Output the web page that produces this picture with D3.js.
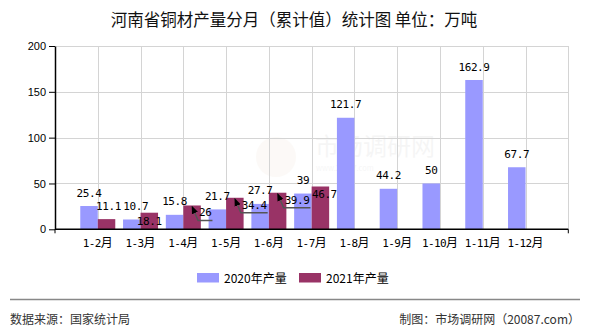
<!DOCTYPE html>
<html>
<head>
<meta charset="utf-8">
<script src="https://cdn.jsdelivr.net/npm/d3@7"></script>
<style>
  html, body { margin: 0; padding: 0; background: #fff; }
  svg { display: block; }
</style>
</head>
<body>
<div id="chart"></div>
<script>
// ---- data ----
const categories = ["1-2月","1-3月","1-4月","1-5月","1-6月","1-7月","1-8月","1-9月","1-10月","1-11月","1-12月"];
const values2020 = [25.4, 10.7, 15.8, 21.7, 27.7, 39, 121.7, 44.2, 50, 162.9, 67.7];
const values2021 = [11.1, 18.1, 26, 34.4, 39.9, 46.7, null, null, null, null, null];
const seriesNames = ["2020年产量", "2021年产量"];
const yTicks = [0, 50, 100, 150, 200];
const titleText = "河南省铜材产量分月（累计值）统计图 单位：万吨";
const sourceText = "数据来源：国家统计局";
const creditText = "制图：市场调研网（20087.com）";

// ---- layout ----
const W = 590, H = 330;
const plot = { left: 55, right: 568.3, top: 46, bottom: 229.3 };
const colors = ["#9999FF", "#993366"];
const barW = 17.5;
const monoFont = "'DejaVu Sans Mono', 'Liberation Mono', monospace";
const cjkFont = "'Noto Sans CJK SC', 'DejaVu Sans', sans-serif";

// label placement tweaks (collision handling as in the original)
const labelAdjust = {
  "0-1": { dx: 4 },
  "1-0": { dx: 2 },
  "1-1": { inside: true },
  "1-2": { leader: true },
  "1-3": { leader: true },
  "1-4": { leader: true },
  "1-5": { inside: true, dx: 4 }
};

const svg = d3.select("#chart").append("svg")
  .attr("width", W).attr("height", H)
  .style("font-family", cjkFont);

svg.append("rect").attr("width", W).attr("height", H).attr("fill", "#fff");

const defs = svg.append("defs");
defs.append("marker").attr("id", "arrow")
  .attr("viewBox", "0 0 10 10").attr("refX", 9).attr("refY", 5)
  .attr("markerWidth", 8).attr("markerHeight", 8).attr("orient", "auto")
  .attr("markerUnits", "userSpaceOnUse")
  .append("path").attr("d", "M0,1 L10,5 L0,9 Z").attr("fill", "#000");

const x = d3.scalePoint().domain(categories).range([plot.left, plot.right]).padding(1);
const y = d3.scaleLinear().domain([0, 200]).range([plot.bottom, plot.top]);

// title
svg.append("text").attr("x", W / 2 - 1).attr("y", 26)
  .attr("text-anchor", "middle").attr("font-size", 16.5).attr("fill", "#111")
  .text(titleText);

// watermark
const wm = svg.append("g").attr("opacity", 0.05);
wm.append("circle").attr("cx", 276).attr("cy", 157).attr("r", 20).attr("fill", "#c9a070");
wm.append("text").attr("x", 315).attr("y", 155).attr("font-size", 24).attr("fill", "#555").text("市场调研网");
wm.append("text").attr("x", 316).attr("y", 171).attr("font-size", 7.5).attr("fill", "#555")
  .text("www.20087.com");

// gridlines
const grid = svg.append("g").attr("stroke", "#d4d4d4").attr("stroke-width", 1);
grid.selectAll("line.h").data(yTicks.filter(t => t > 0)).join("line")
  .attr("x1", plot.left).attr("x2", plot.right)
  .attr("y1", d => Math.round(y(d)) + 0.5).attr("y2", d => Math.round(y(d)) + 0.5);
grid.selectAll("line.v").data(categories).join("line")
  .attr("x1", d => Math.round(x(d)) + 0.5).attr("x2", d => Math.round(x(d)) + 0.5)
  .attr("y1", plot.top).attr("y2", plot.bottom);
grid.append("line")
  .attr("x1", Math.round(plot.right) + 0.5).attr("x2", Math.round(plot.right) + 0.5)
  .attr("y1", plot.top).attr("y2", plot.bottom);

// bars
const seriesData = [values2020, values2021];
seriesData.forEach((vals, si) => {
  svg.append("g").selectAll("rect").data(vals.map((v, i) => ({ v, i })).filter(d => d.v != null))
    .join("rect")
    .attr("x", d => si === 0 ? x(categories[d.i]) - barW : x(categories[d.i]))
    .attr("y", d => y(d.v))
    .attr("width", barW)
    .attr("height", d => y(0) - y(d.v))
    .attr("fill", colors[si]);
});

// axes
const yAxis = d3.axisLeft(y).tickValues(yTicks).tickSize(6).tickSizeOuter(0).tickPadding(3);
const gy = svg.append("g").attr("transform", `translate(${plot.left},0)`).call(yAxis);
gy.select(".domain").attr("stroke", "#000").attr("stroke-width", 1.5);
gy.selectAll(".tick line").attr("stroke", "#000");
gy.selectAll(".tick text").attr("font-family", "'Liberation Sans', Arial, sans-serif")
  .attr("font-size", 11).attr("fill", "#000");

svg.append("line").attr("x1", plot.left).attr("x2", plot.right)
  .attr("y1", plot.bottom).attr("y2", plot.bottom).attr("stroke", "#000").attr("stroke-width", 1.5);
[plot.left, plot.right].forEach(px => {
  svg.append("line").attr("x1", px).attr("x2", px).attr("y1", plot.bottom).attr("y2", plot.bottom + 4)
    .attr("stroke", "#000");
});

// x labels
svg.append("g").selectAll("text").data(categories).join("text")
  .attr("x", d => x(d)).attr("y", 247)
  .attr("text-anchor", "middle").attr("font-size", 12).attr("fill", "#000")
  .each(function (d) {
    const t = d3.select(this);
    const num = d.replace("月", "");
    t.append("tspan").attr("font-family", monoFont).attr("font-size", 11).attr("letter-spacing", -0.6).text(num);
    t.append("tspan").text("月");
  });

// data labels
const labelsG = svg.append("g").attr("font-family", monoFont).attr("font-size", 11)
  .attr("letter-spacing", -0.4).attr("fill", "#000");
seriesData.forEach((vals, si) => {
  vals.forEach((v, i) => {
    if (v == null) return;
    const cx = si === 0 ? x(categories[i]) - barW / 2 : x(categories[i]) + barW / 2;
    const top = y(v);
    const adj = labelAdjust[`${si}-${i}`] || {};
    const txt = String(v);
    if (adj.leader) {
      const cornerX = cx + 6, cornerY = top + 15;
      const tw = txt.length * 6.2;
      labelsG.append("text").attr("x", cornerX + 1).attr("y", cornerY - 4).text(txt);
      svg.append("path")
        .attr("d", `M${cornerX + tw + 2},${cornerY} H${cornerX} L${cx},${top + 1}`)
        .attr("fill", "none").attr("stroke", "#555").attr("stroke-width", 1.5)
        .attr("marker-end", "url(#arrow)");
    } else if (adj.inside) {
      labelsG.append("text").attr("x", cx + (adj.dx || 0)).attr("y", top + 12)
        .attr("text-anchor", "middle").text(txt);
    } else {
      labelsG.append("text").attr("x", cx + (adj.dx || 0)).attr("y", top - 9.5)
        .attr("text-anchor", "middle").text(txt);
    }
  });
});

// legend
const legend = svg.append("g");
const legendItems = [{ x: 197, name: seriesNames[0], c: colors[0] }, { x: 299, name: seriesNames[1], c: colors[1] }];
legendItems.forEach(it => {
  legend.append("rect").attr("x", it.x).attr("y", 273).attr("width", 22).attr("height", 9.5).attr("fill", it.c);
  legend.append("text").attr("x", it.x + 27).attr("y", 282.5).attr("font-size", 12).attr("fill", "#000")
    .text(it.name);
});

// footer
svg.append("line").attr("x1", 10).attr("x2", 580).attr("y1", 299.5).attr("y2", 299.5)
  .attr("stroke", "#888").attr("stroke-width", 1.5);
svg.append("text").attr("x", 10).attr("y", 324).attr("font-size", 12).attr("fill", "#333").text(sourceText);
svg.append("text").attr("x", 580).attr("y", 324).attr("text-anchor", "end").attr("font-size", 12)
  .attr("fill", "#333").text(creditText);
</script>
</body>
</html>
